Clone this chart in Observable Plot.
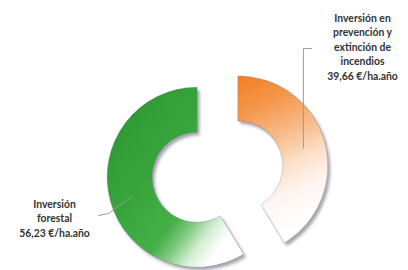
<!DOCTYPE html>
<html>
<head>
<meta charset="utf-8">
<script src="https://cdn.jsdelivr.net/npm/d3@7"></script>
<script src="https://cdn.jsdelivr.net/npm/@observablehq/plot@0.6"></script>
<style>
  html, body { margin: 0; padding: 0; background: #fff; }
  #chart svg { display: block; }
</style>
</head>
<body>
<div id="chart"></div>
<script>
// Data
const categories = ["Inversión en prevención y extinción de incendios", "Inversión forestal"];
const labelLines = [
  ["Inversión en", "prevención y", "extinción de", "incendios"],
  ["Inversión", "forestal"]
];
const values = [39.66, 56.23];
const valueLabels = ["39,66 €/ha.año", "56,23 €/ha.año"];

// Geometry (data units: outer radius = 1)
const outer = 1, inner = 0.5, explode = 0.235;
const pie = d3.pie().sort(null).value(d => d)(values);
const mids = pie.map(a => (a.startAngle + a.endAngle) / 2);
const centers = mids.map(m => [explode * Math.sin(m), explode * Math.cos(m)]);
const centroids = mids.map((m, i) => {
  const r = (outer + inner) / 2;
  return [centers[i][0] + r * Math.sin(m), centers[i][1] + r * Math.cos(m)];
});

// Labels and leader lines
const labelPos = [[1.606, 1.40], [-1.817, -0.506]];
const labels = categories.map((c, i) => ({
  text: labelLines[i].concat([valueLabels[i]]).join("\n"),
  x: labelPos[i][0], y: labelPos[i][1]
}));
const leaders = [
  [{x: centroids[0][0], y: centroids[0][1]}, {x: centroids[0][0], y: 1.372}, {x: 1.039, y: 1.372}],
  [{x: centroids[1][0], y: centroids[1][1]}, {x: -1.217, y: -0.461}, {x: -1.328, y: -0.483}]
];
const leaderData = leaders.flatMap((pts, i) => pts.map(p => ({...p, s: i})));

function defs() {
  const d = d3.create("svg:defs");
  const f = d.append("filter").attr("id", "blur").attr("x", "-10%").attr("y", "-10%").attr("width", "130%").attr("height", "130%");
  f.append("feGaussianBlur").attr("stdDeviation", 1.4);
  const g0 = d.append("linearGradient").attr("id", "grad0")
    .attr("x1", 0.1).attr("y1", 0).attr("x2", 0.35).attr("y2", 1);
  [[0, "#f08226"], [0.2, "#f5964a"], [0.42, "#f8bb88"], [0.6, "#fbdfc6"], [0.78, "#fff6f1"], [1, "#ffffff"]]
    .forEach(([o, c]) => g0.append("stop").attr("offset", o).attr("stop-color", c));
  const g1 = d.append("linearGradient").attr("id", "grad1")
    .attr("x1", 0).attr("y1", 0).attr("x2", 1).attr("y2", 1);
  [[0, "#2b9430"], [0.4, "#37a53c"], [0.62, "#45b048"], [0.7, "#84cc84"], [0.78, "#d6efd6"], [0.86, "#ffffff"], [1, "#ffffff"]]
    .forEach(([o, c]) => g1.append("stop").attr("offset", o).attr("stop-color", c));
  return d.node();
}

function donut(index, scales) {
  const x = scales.x, y = scales.y;
  const k = x(1) - x(0);
  const arc = d3.arc().innerRadius(inner * k).outerRadius(outer * k);
  const g = d3.create("svg:g");
  pie.forEach((a, i) => {
    const cx = x(centers[i][0]), cy = y(centers[i][1]);
    g.append("path").attr("d", arc(a))
      .attr("transform", `translate(${cx + 2.5},${cy + 3})`)
      .attr("fill", "#6f6a78").attr("opacity", 0.6).attr("filter", "url(#blur)");
  });
  pie.forEach((a, i) => {
    const cx = x(centers[i][0]), cy = y(centers[i][1]);
    g.append("path").attr("d", arc(a))
      .attr("transform", `translate(${cx},${cy})`)
      .attr("fill", `url(#grad${i})`)
      .attr("stroke", "rgba(110,100,130,0.4)").attr("stroke-width", 0.7);
  });
  return g.node();
}

const chart = Plot.plot({
  width: 408,
  height: 270,
  margin: 0,
  x: {domain: [-2.417, 2.117], axis: null},
  y: {domain: [-1.094, 1.906], axis: null},
  marks: [
    defs,
    donut,
    Plot.line(leaderData, {x: "x", y: "y", z: "s", stroke: "#9a9a9a", strokeWidth: 1}),
    Plot.text(labels, {
      x: "x", y: "y", text: "text",
      textAnchor: "middle", lineAnchor: "middle", lineHeight: 1.4,
      fontSize: 10.4, fontWeight: "bold", fontFamily: "Lato, 'Open Sans', sans-serif",
      fill: "#333333"
    })
  ]
});
document.getElementById("chart").appendChild(chart);
</script>
</body>
</html>
